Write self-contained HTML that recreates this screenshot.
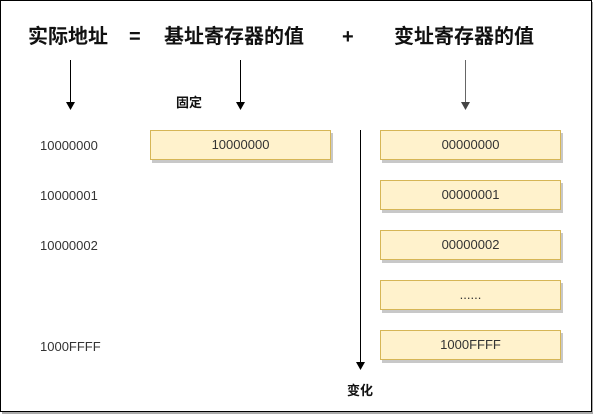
<!DOCTYPE html>
<html><head><meta charset="utf-8"><style>
body{margin:0;width:593px;height:414px;background:#fff;position:relative;overflow:hidden;font-family:"Liberation Sans","Noto Sans CJK SC",sans-serif}
.t{position:absolute;font-weight:bold;font-size:20px;color:#111;line-height:24px;top:25px;white-space:nowrap}
.l{position:absolute;font-size:13px;color:#333;line-height:14px}
.b{position:absolute;width:181px;height:30px;background:#fff2cc;border:1px solid #d6b656;box-shadow:2px 3px 0 #c8c8c8;font-size:13px;color:#333;text-align:center;line-height:28px;box-sizing:border-box}
</style></head><body>
<div style="position:absolute;left:0;top:0;width:590px;height:410px;border:1px solid #000;box-shadow:2px 2px 0 #aaa"></div>
<div class="t" style="left:28px">实际地址</div>
<div class="t" style="left:129px">=</div>
<div class="t" style="left:164px">基址寄存器的值</div>
<div class="t" style="left:342px">+</div>
<div class="t" style="left:394px">变址寄存器的值</div>
<svg width="593" height="414" style="position:absolute;left:0;top:0">
<g stroke="#000" stroke-width="1"><line x1="70.5" y1="60" x2="70.5" y2="103"/><line x1="240.5" y1="60" x2="240.5" y2="103"/><line x1="360.5" y1="130" x2="360.5" y2="364"/></g>
<line x1="465.5" y1="60" x2="465.5" y2="103" stroke="#666"/>
<polygon points="66,102 75,102 70.5,110" fill="#000"/>
<polygon points="236,102 245,102 240.5,110" fill="#000"/>
<polygon points="461,102 470,102 465.5,110" fill="#444"/>
<polygon points="356,362 365,362 360.5,370" fill="#000"/>
</svg>
<div class="l" style="left:176px;top:96px;font-weight:bold;color:#111">固定</div>
<div class="l" style="left:347px;top:384px;font-weight:bold;color:#111">变化</div>
<div class="l" style="left:40px;top:139px">10000000</div>
<div class="l" style="left:40px;top:189px">10000001</div>
<div class="l" style="left:40px;top:239px">10000002</div>
<div class="l" style="left:40px;top:340px">1000FFFF</div>
<div class="b" style="left:150px;top:130px">10000000</div>
<div class="b" style="left:380px;top:130px">00000000</div>
<div class="b" style="left:380px;top:180px">00000001</div>
<div class="b" style="left:380px;top:230px">00000002</div>
<div class="b" style="left:380px;top:280px">......</div>
<div class="b" style="left:380px;top:330px">1000FFFF</div>
</body></html>
